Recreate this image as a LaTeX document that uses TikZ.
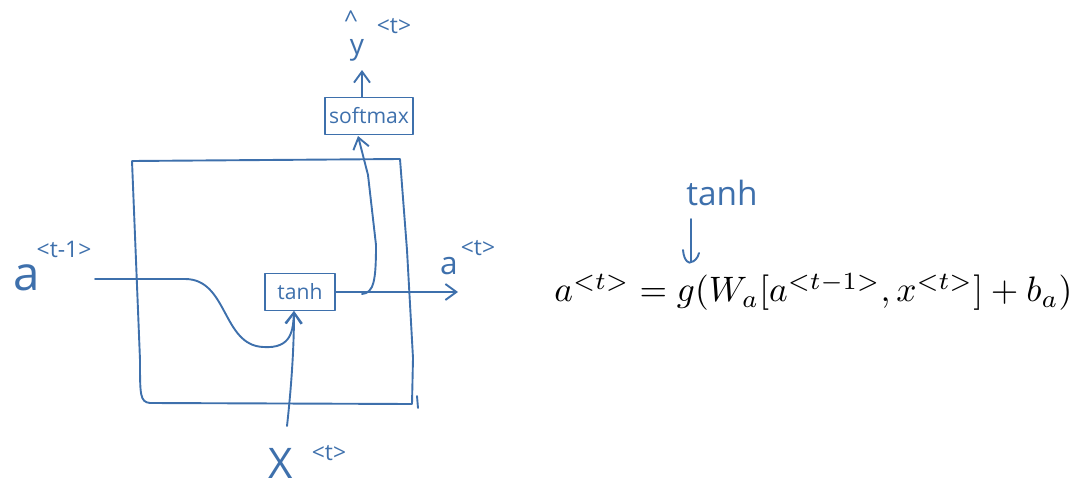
\documentclass[tikz,border=0pt]{standalone}
\usepackage{fontspec}
\usepackage{graphicx}
\usetikzlibrary{arrows.meta}
\newfontfamily\hand{Open Sans}
\definecolor{ink}{RGB}{62,112,172}
\begin{document}
\begin{tikzpicture}[x=0.2mm,y=-0.2mm,
  pen/.style={draw=ink,line width=0.38mm,line cap=round,line join=round},
  arr/.style={pen,-{Straight Barb[length=2.2mm,width=3.2mm]}},
  lbl/.style={text=ink,font=\hand,inner sep=0pt},
  opbox/.style={pen,inner sep=0pt,text=ink,font=\hand\fontsize{12}{12}\selectfont}]
\useasboundingbox (0,0) rectangle (1078,487);
% cell box
\draw[pen] (132,161) -- (400,159) -- (407,250) -- (413,358) -- (412,404)
  -- (150,403) .. controls (140,402) and (140,395) .. (140,360) -- (132,161);
\draw[pen] (417,396) -- (418,408);
% operation boxes
\node[opbox,minimum width=70*0.2mm,minimum height=37*0.2mm] (tanh) at (300,292) {tanh};
\node[opbox,minimum width=88*0.2mm,minimum height=37*0.2mm] (soft) at (369,116) {softmax};
% labels
\node[lbl,font=\hand\fontsize{27}{27}\selectfont,anchor=base] (ain) at (27,290) {a};
\node[lbl,font=\hand\fontsize{13}{13}\selectfont] (ainsup) at (64,249) {<t-1>};
\node[lbl,font=\hand\fontsize{18}{18}\selectfont,anchor=base] (aout) at (449,274) {a};
\node[lbl,font=\hand\fontsize{13}{13}\selectfont] (aoutsup) at (478,248) {<t>};
\node[lbl,font=\hand\fontsize{24}{24}\selectfont,anchor=base] (xin) at (281,478) {X};
\node[lbl,font=\hand\fontsize{13}{13}\selectfont] (xinsup) at (329,453) {<t>};
\node[lbl,font=\hand\fontsize{16}{16}\selectfont] (yhat) at (357,50) {y};
\node[lbl,font=\hand\fontsize{14}{14}\selectfont] (hat) at (351,20) {\^{}};
\node[lbl,font=\hand\fontsize{13}{13}\selectfont] (yhatsup) at (394,26) {<t>};
% coordinates
\coordinate (ainstart) at (95,279);
\coordinate (xstart) at (287,426);
\coordinate (tin) at (294,311);
\coordinate (branch) at (362,294);
\coordinate (aend) at (458,292);
\coordinate (sin) at (358,136);
\coordinate (ytop) at (362,70);
% connectors
\draw[arr] (ainstart) -- (185,279) .. controls (228,279) and (222,345) .. (263,347)
  .. controls (292,349) and (293,330) .. (tin);
\draw[arr] (xstart) .. controls (291,390) and (294,350) .. (tin);
\draw[arr] (tanh.east) -- (aend);
\draw[arr] (branch) .. controls (374,293) and (376,280) .. (376,245) -- (368,175) -- (sin);
\draw[arr] (soft.north -| ytop) -- (ytop);
% equation
\node[lbl,font=\hand\fontsize{19}{19}\selectfont] (tanhlbl) at (722,193) {tanh};
\coordinate (hookstart) at (691,219);
\coordinate (hookend) at (691,262);
\draw[pen] (hookstart) -- (hookend);
\draw[pen] (683,250) .. controls (684,262) and (690,264) .. (hookend) .. controls (694,262) and (698,258) .. (699,253);
\node[inner sep=0pt,anchor=west] (eq) at (554,292) {\resizebox{103.6mm}{!}{$a^{<t>} = g(W_a[a^{<t-1>}, x^{<t>}] + b_a)$}};
\end{tikzpicture}
\end{document}
